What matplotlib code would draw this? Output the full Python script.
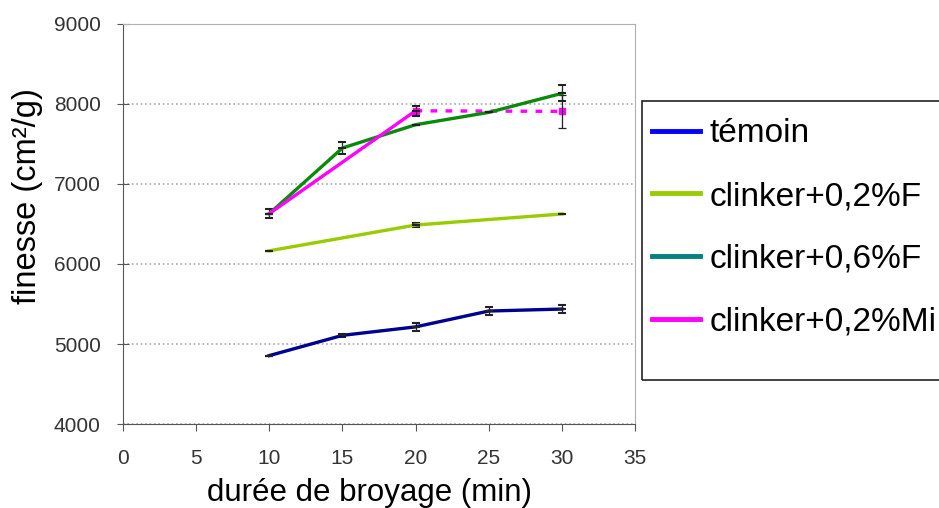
from matplotlib import pyplot as plt
from matplotlib.lines import Line2D
from matplotlib.patches import Rectangle

plt.rcParams['font.family'] = ['Liberation Sans', 'DejaVu Sans']

# données
x_temoin = [10, 15, 20, 25, 30]
y_temoin = [4855, 5108, 5214, 5412, 5437]
e_temoin = [0, 20, 50, 50, 45]

x_f02 = [10, 20, 30]
y_f02 = [6165, 6487, 6625]
e_f02 = [0, 20, 0]

x_f06 = [10, 15, 20, 25, 30]
y_f06 = [6630, 7450, 7741, 7895, 8133]
e_f06 = [0, 70, 0, 0, 100]

x_mi = [10, 20]
y_mi = [6630, 7915]
e_mi = [60, 60]
x_mi_dash = [20, 30]
y_mi_dash = [7915, 7908]
e_mi_dash = [0, 210]

labels = [u'témoin', 'clinker+0,2%F', 'clinker+0,6%F', 'clinker+0,2%Mi']
leg_colors = ['#0000ff', '#99cc00', '#008080', '#ff00ff']

fig = plt.figure(figsize=(9.39, 5.08), dpi=100)
ax = fig.add_axes([123/939, 84/508, 512/939, 400/508])

ax.yaxis.grid(True, linestyle=':', color='#aaaaaa', linewidth=1.2)
ax.set_axisbelow(True)

eb = dict(ecolor='#222222', elinewidth=0.9, capsize=3, capthick=0.9,
          marker='_', ms=6, mec='#222222', mew=1.5, zorder=3)
ax.errorbar(x_temoin, y_temoin, yerr=e_temoin, color='#000090', lw=2.4, **eb)
ax.errorbar(x_f02, y_f02, yerr=e_f02, color='#99cc00', lw=2.4, **eb)
ax.errorbar(x_f06, y_f06, yerr=e_f06, color='#0a8a0a', lw=2.4, **eb)
ax.errorbar(x_mi, y_mi, yerr=e_mi, color='#ff00ff', lw=2.4, **eb)
ax.plot(x_mi_dash, y_mi_dash, color='#ff00ff', lw=2.4, ls=(0, (2, 2.5)), marker='s', ms=4, zorder=2)
ax.errorbar(x_mi_dash[1:], y_mi_dash[1:], yerr=e_mi_dash[1:], fmt='none',
            ecolor='#222222', elinewidth=0.9, capsize=3, capthick=0.9, zorder=3)

ax.set_xlim(0, 35)
ax.set_ylim(4000, 9000)
ax.set_xticks(range(0, 36, 5))
ax.set_yticks(range(4000, 9001, 1000))

for s in ['left', 'bottom']:
    ax.spines[s].set_color('#555555')
for s in ['top', 'right']:
    ax.spines[s].set_color('#b0b0b0')
ax.tick_params(axis='y', direction='inout', length=8, colors='#555555', labelcolor='#333333', labelsize=15, pad=12)
ax.tick_params(axis='x', direction='out', length=5, colors='#555555', labelcolor='#333333', labelsize=15, pad=13)

ax.set_xlabel(u'durée de broyage (min)', fontsize=22.5)
ax.set_ylabel(u'finesse (cm²/g)', fontsize=23.5)
ax.xaxis.set_label_coords(0.482, -0.134)
ax.yaxis.set_label_coords(-0.156, 0.57)

# légende
handles = [Line2D([0], [0], color=c, lw=3.5) for c in leg_colors]
fig.legend(handles, labels, loc='upper left', bbox_to_anchor=(639/939, 1 - 105/508),
           frameon=False, fontsize=24, handlelength=1.42, handletextpad=0.3,
           labelspacing=0.95, borderaxespad=0)
fig.patches.append(Rectangle((642/939, 1 - 380/508), 310/939, 279/508,
                             transform=fig.transFigure, fill=False, edgecolor='#222222', lw=1.2))

fig.savefig('out.png', dpi=100)
